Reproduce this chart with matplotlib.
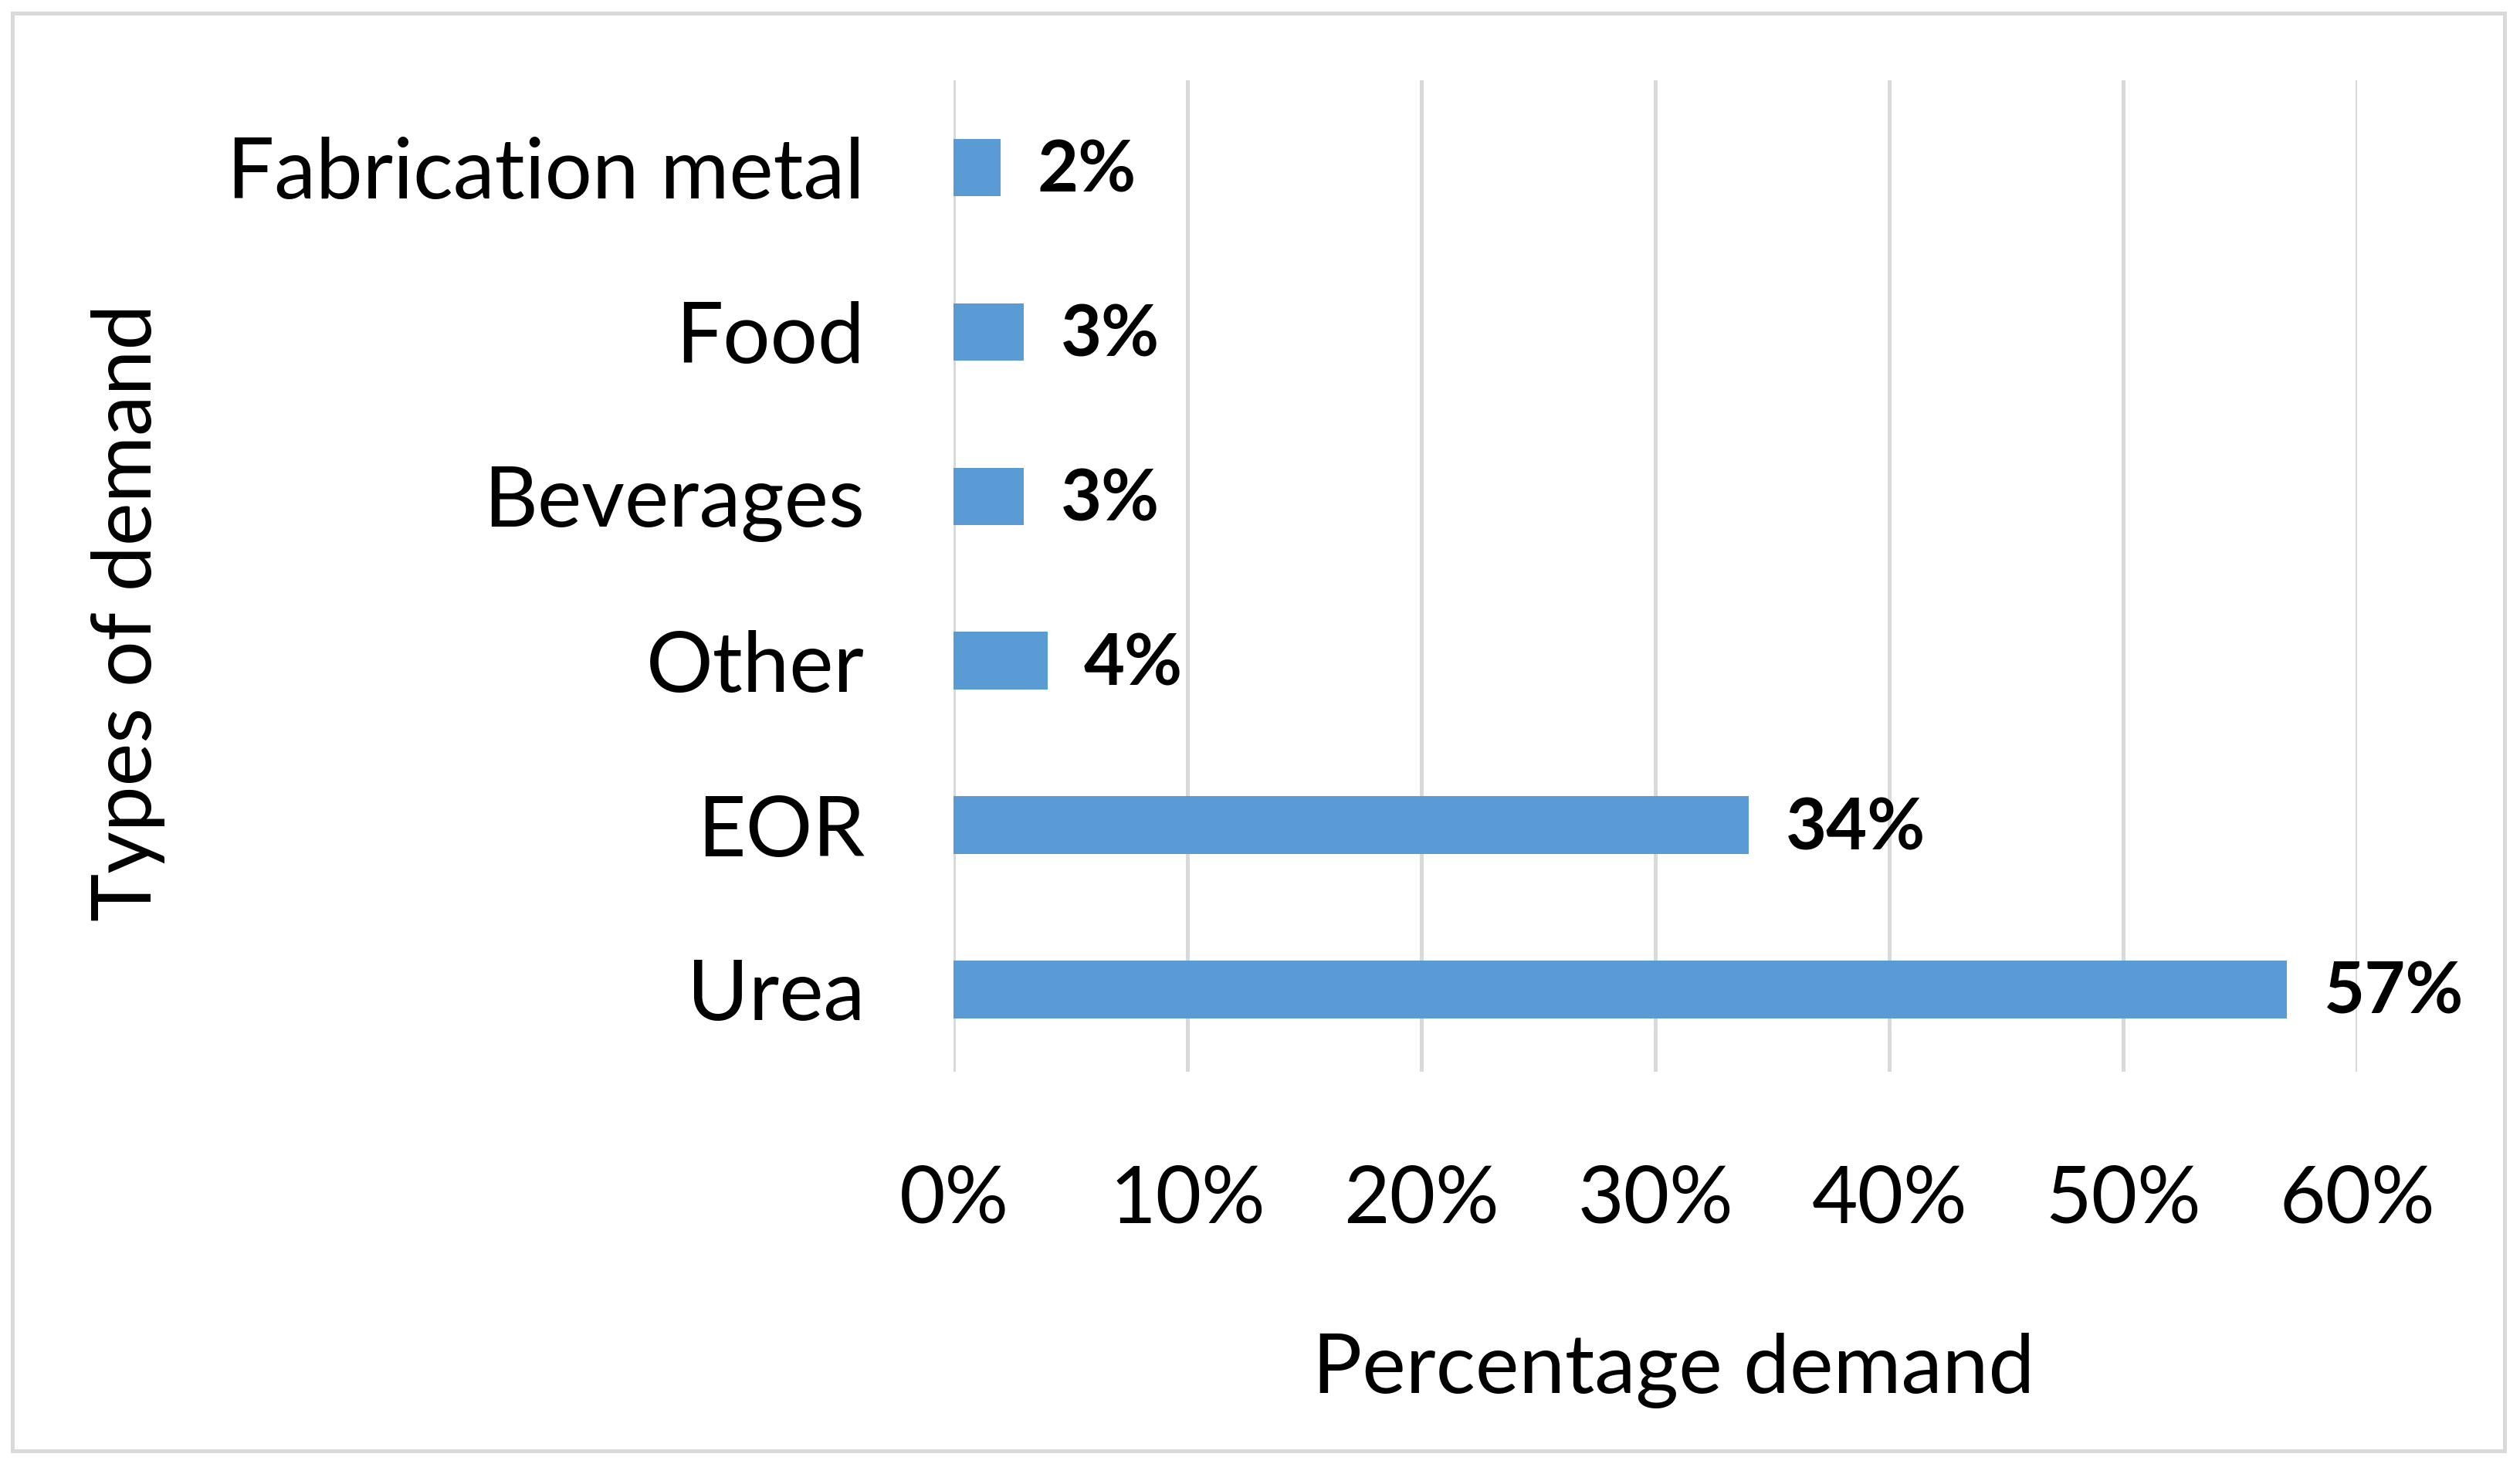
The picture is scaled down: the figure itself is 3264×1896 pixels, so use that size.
import matplotlib.pyplot as plt
import matplotlib.patches as patches
from matplotlib.ticker import FuncFormatter

# data
categories = ['Urea', 'EOR', 'Other', 'Beverages', 'Food', 'Fabrication metal']
values = [57, 34, 4, 3, 3, 2]
xticks = [0, 10, 20, 30, 40, 50, 60]

plt.rcParams['font.family'] = ['Lato', 'DejaVu Sans']

fig = plt.figure(figsize=(32.64, 18.96), dpi=100)
ax = fig.add_axes([0.3785, 0.268, 0.5569, 0.677])

ypos = list(range(len(categories)))
ax.barh(ypos, values, height=0.35, color='#5b9bd5', zorder=3)

# bold value labels to the right of each bar
for y, v in zip(ypos, values):
    ax.annotate(f'{v}%', xy=(v, y), xytext=(34, -4), textcoords='offset points',
                ha='left', va='center', fontsize=66, fontweight='bold', color='black')

ax.set_xlim(0, 60)
ax.set_ylim(-0.5, 5.53)
ax.set_xticks(xticks)
ax.xaxis.set_major_formatter(FuncFormatter(lambda x, p: f'{int(x)}%'))
ax.set_yticks(ypos)
ax.set_yticklabels(categories)
ax.tick_params(axis='x', length=0, labelsize=74, pad=86)
ax.tick_params(axis='y', length=0, labelsize=78, pad=83)
ax.grid(axis='x', color='#d9d9d9', linewidth=3.6, zorder=0)
ax.set_axisbelow(True)
for s in ax.spines.values():
    s.set_visible(False)

fig.text(0.664, 0.064, 'Percentage demand', ha='center', va='center', fontsize=77)
fig.text(0.051, 0.5815, 'Types of demand', ha='center', va='center', fontsize=76, rotation=90)

# light gray frame round the whole chart
fig.patches.append(patches.Rectangle((0.005, 0.009), 0.989, 0.982, transform=fig.transFigure,
                                     fill=False, edgecolor='#d9d9d9', linewidth=3.6))

plt.savefig('out.png', dpi=100)
